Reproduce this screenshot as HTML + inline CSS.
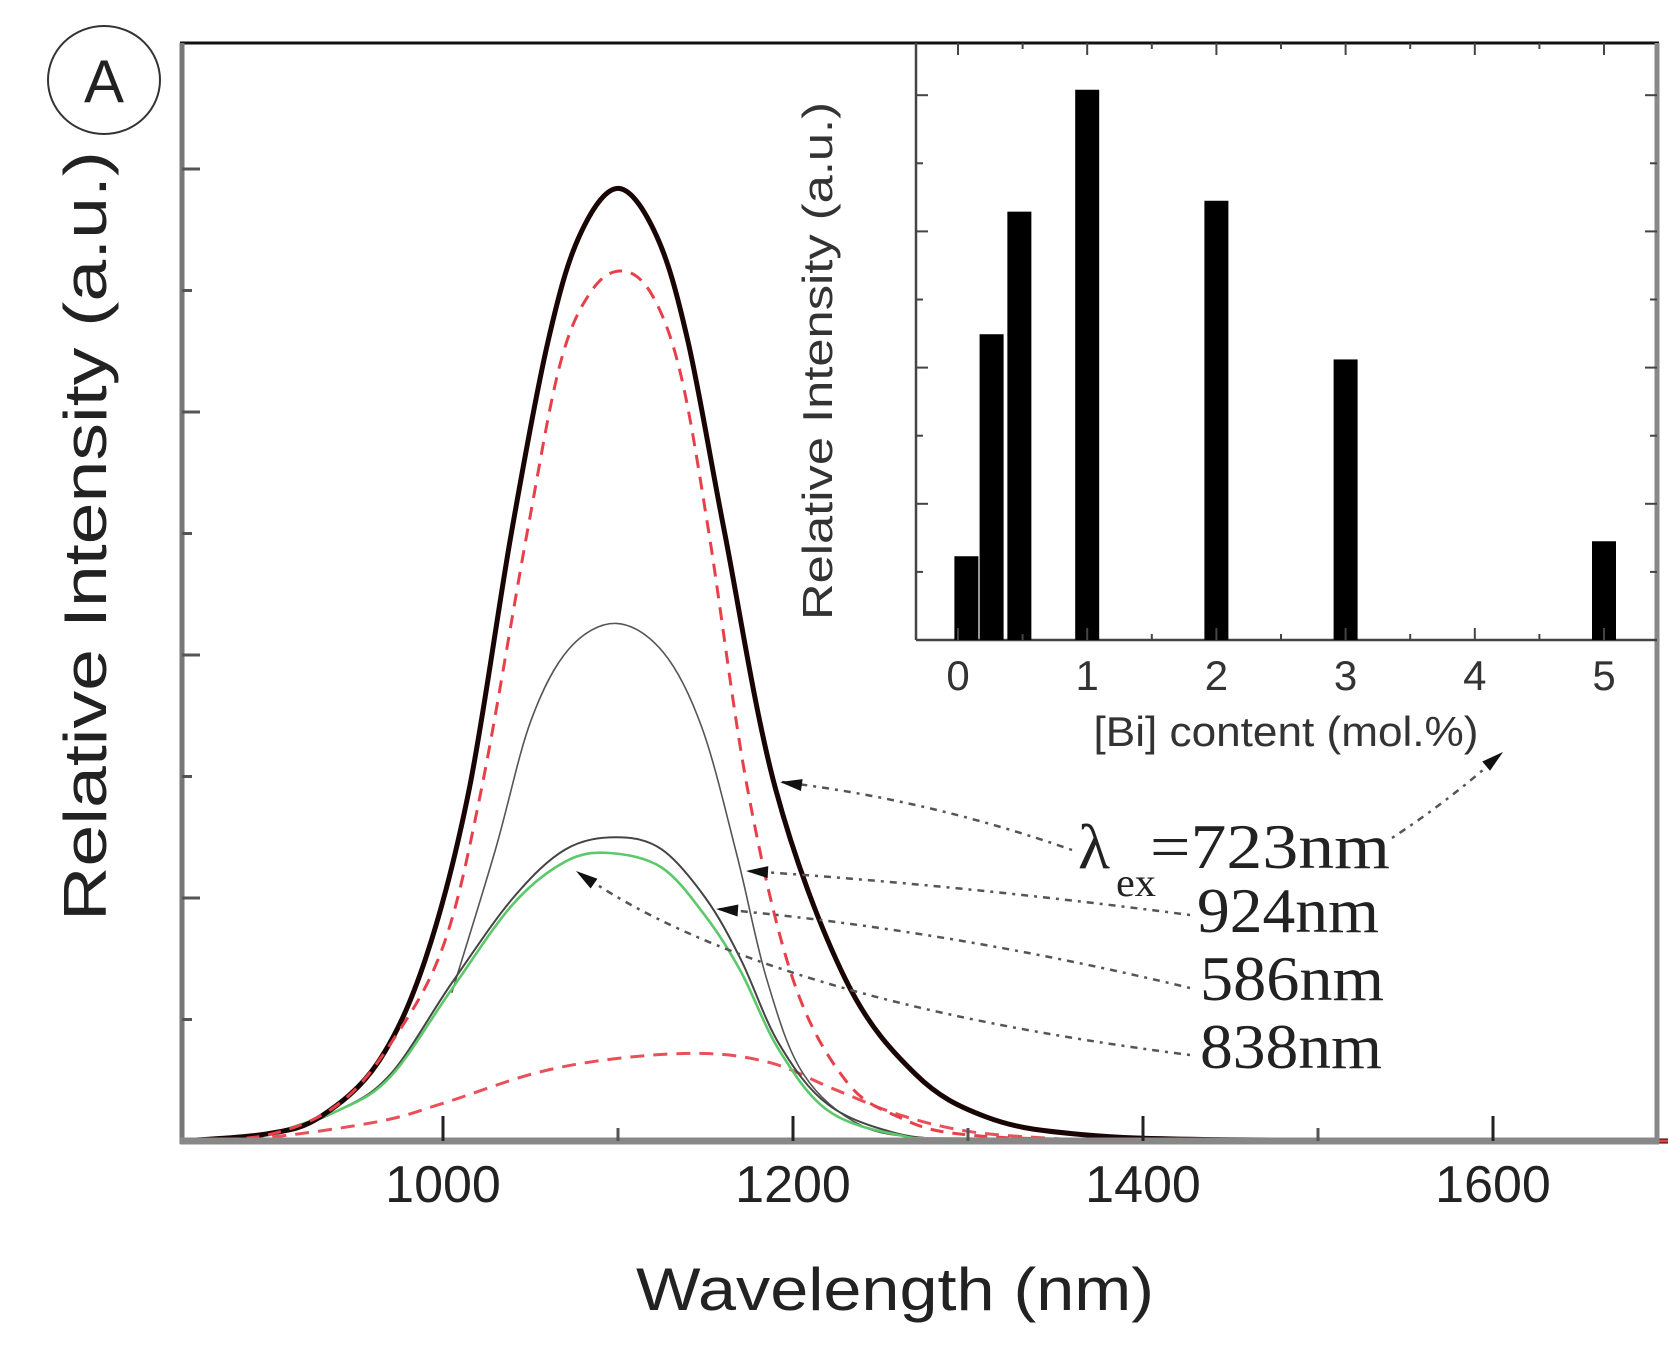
<!DOCTYPE html>
<html>
<head>
<meta charset="utf-8">
<style>
  html,body{margin:0;padding:0;background:#fff;}
  svg{display:block;}
  .sans{font-family:"Liberation Sans",Arial,sans-serif;}
  .serif{font-family:"Liberation Serif","Times New Roman",serif;}
</style>
</head>
<body>
<svg id="chart" width="1676" height="1346" viewBox="0 0 1676 1346" xmlns="http://www.w3.org/2000/svg">
  <rect x="0" y="0" width="1676" height="1346" fill="#fff"/>
  <g id="main"></g>
  <g id="inset"></g>
  <g id="annot"></g>
</svg>
<script>
// ---------------- main spectra data ----------------
const xTickLabels = [1000, 1200, 1400, 1600];
const xMinorTicks = [1100, 1300, 1500];
const yTickValues = [1, 2, 3, 4, 5, 6, 7, 8];

const wlThick = [850, 900, 930, 963, 990, 1015, 1039, 1060, 1078, 1100, 1122, 1140, 1161, 1190, 1230, 1270, 1310, 1360, 1450, 1700];
const valThick = [0, 0.06, 0.2, 0.65, 1.5, 2.9, 5.0, 6.58, 7.45, 7.84, 7.45, 6.58, 5.0, 2.9, 1.33, 0.55, 0.2, 0.06, 0.01, 0];

const wlRedBig = [850, 900, 940, 970, 1000, 1022, 1048, 1067, 1085, 1103, 1120, 1136, 1152, 1174, 1200, 1230, 1260, 1300, 1400, 1700];
const valRedBig = [0, 0.05, 0.3, 0.8, 1.6, 2.9, 5.0, 6.4, 7.0, 7.16, 6.95, 6.3, 5.0, 2.9, 1.33, 0.5, 0.2, 0.05, 0.01, 0];

const wlThin = [1005, 1030, 1050, 1072, 1099, 1126, 1148, 1168, 1185, 1206, 1240, 1280, 1300];
const valThin = [1.22, 2.4, 3.45, 4.05, 4.26, 4.02, 3.4, 2.35, 1.33, 0.55, 0.12, 0.02, 0];

const wlMid = [850, 900, 940, 970, 1005, 1040, 1070, 1099, 1125, 1150, 1170, 1192, 1220, 1260, 1300];
const valMid = [0, 0.05, 0.25, 0.55, 1.3, 2.0, 2.4, 2.5, 2.4, 2.0, 1.5, 0.8, 0.3, 0.06, 0];

const wlGreen = [900, 940, 970, 1005, 1040, 1070, 1095, 1125, 1150, 1170, 1192, 1220, 1260, 1300, 1500];
const valGreen = [0.05, 0.25, 0.53, 1.25, 1.95, 2.3, 2.37, 2.25, 1.85, 1.4, 0.75, 0.25, 0.05, 0.02, 0];

const wlRedLow = [850, 900, 963, 1000, 1053, 1100, 1150, 1188, 1223, 1260, 1300, 1350, 1400, 1700];
const valRedLow = [0, 0.03, 0.16, 0.31, 0.56, 0.68, 0.72, 0.64, 0.43, 0.22, 0.08, 0.02, 0, 0];

// ---------------- inset data ----------------
const biContent = [0.065, 0.26, 0.475, 1, 2, 3, 5];
const biIntensity = [1.23, 4.49, 6.29, 8.08, 6.45, 4.12, 1.45];
const insetXTicks = [0, 1, 2, 3, 4, 5];
const insetYTicks = [1, 2, 3, 4, 5, 6, 7, 8];

const NS = "http://www.w3.org/2000/svg";
function mk(tag, attrs, parent) {
  const e = document.createElementNS(NS, tag);
  for (const k in attrs) e.setAttribute(k, attrs[k]);
  parent.appendChild(e);
  return e;
}

const L = 182, R = 1657, T = 43, B = 1141;
const xPx = w => 443 + (w - 1000) * 1.75;
const yPx = v => B - v * 121.5;

function smoothPath(xs, ys) {
  const p = xs.map((x, i) => [x, ys[i]]);
  let d = "M" + p[0][0].toFixed(1) + "," + p[0][1].toFixed(1);
  for (let i = 0; i < p.length - 1; i++) {
    const p0 = p[i - 1] || p[i], p1 = p[i], p2 = p[i + 1], p3 = p[i + 2] || p2;
    const c1x = p1[0] + (p2[0] - p0[0]) / 6, c1y = p1[1] + (p2[1] - p0[1]) / 6;
    const c2x = p2[0] - (p3[0] - p1[0]) / 6, c2y = p2[1] - (p3[1] - p1[1]) / 6;
    d += " C" + c1x.toFixed(1) + "," + c1y.toFixed(1) + " " + c2x.toFixed(1) + "," + c2y.toFixed(1) + " " + p2[0].toFixed(1) + "," + p2[1].toFixed(1);
  }
  return d;
}

const main = document.getElementById("main");

function curve(wl, vals, stroke, width, dash, name) {
  const xs = wl.map(xPx), ys = vals.map(yPx);
  const a = { d: smoothPath(xs, ys), fill: "none", stroke: stroke, "stroke-width": width, "stroke-linejoin": "round" };
  if (dash) a["stroke-dasharray"] = dash;
  const el = mk("path", a, main);
  
  
}
curve(wlRedLow, valRedLow, "#e8505a", 3, "14,9", "spectrum-838nm");
curve(wlThin, valThin, "#555", 1.6, null, "spectrum-924nm");
curve(wlMid, valMid, "#444", 2, null, "spectrum-586nm");
curve(wlGreen, valGreen, "#5cc86a", 2.6, null, "spectrum-green");
curve(wlThick, valThick, "#1a0505", 5, null, "spectrum-723nm");
curve(wlRedBig, valRedBig, "#e8404a", 3, "13,9", "spectrum-red-dashed");

mk("line", { x1: L - 2, y1: T, x2: R + 2, y2: T, stroke: "#111", "stroke-width": 3 }, main);
mk("line", { x1: L, y1: T, x2: L, y2: B + 3, stroke: "#777", "stroke-width": 5 }, main);
mk("line", { x1: R, y1: T, x2: R, y2: B + 3, stroke: "#888", "stroke-width": 5 }, main);
mk("line", { x1: L - 2, y1: B, x2: R + 2, y2: B, stroke: "#888", "stroke-width": 7 }, main);

xTickLabels.forEach(t => {
  const x = xPx(t);
  const tk = mk("line", { x1: x, y1: B, x2: x, y2: B - 25, stroke: "#222", "stroke-width": 3 }, main);
  
  
  const lb = mk("text", { x: x, y: 1202, "text-anchor": "middle", "font-size": 52, fill: "#222", class: "sans" }, main);
  lb.textContent = t;
  
  
});
xMinorTicks.forEach(t => {
  const x = xPx(t);
  const tk = mk("line", { x1: x, y1: B, x2: x, y2: B - 13, stroke: "#555", "stroke-width": 3 }, main);
  
  
});
yTickValues.forEach(v => {
  const y = yPx(v);
  const major = v % 2 === 0;
  const tk = mk("line", { x1: L, y1: y, x2: L + (major ? 18 : 10), y2: y, stroke: "#555", "stroke-width": 3 }, main);
  
  
});

const xt = mk("text", { x: 895, y: 1310, "text-anchor": "middle", "font-size": 60, fill: "#222", class: "sans", textLength: 518, lengthAdjust: "spacingAndGlyphs" }, main);
xt.textContent = "Wavelength (nm)";


const yt = mk("text", { x: 0, y: 0, "text-anchor": "middle", "font-size": 60, fill: "#222", class: "sans", textLength: 770, lengthAdjust: "spacingAndGlyphs", transform: "translate(106,536) rotate(-90)" }, main);
yt.textContent = "Relative Intensity (a.u.)";



mk("ellipse", { cx: 104, cy: 80, rx: 56, ry: 54, fill: "none", stroke: "#333", "stroke-width": 2 }, main);
const pa = mk("text", { x: 104, y: 102, "text-anchor": "middle", "font-size": 60, fill: "#222", class: "sans" }, main);
pa.textContent = "A";



// ---------------- inset ----------------
const inset = document.getElementById("inset");
const IL = 916, IB = 640;
const ixPx = c => 958 + c * 129.2;
const iyPx = v => IB - v * 68.1;

mk("line", { x1: IL, y1: T, x2: IL, y2: IB, stroke: "#444", "stroke-width": 2.5 }, inset);
mk("line", { x1: IL, y1: IB, x2: R, y2: IB, stroke: "#444", "stroke-width": 2.5 }, inset);

biContent.forEach((c, i) => {
  const x = ixPx(c), y = iyPx(biIntensity[i]);
  const b = mk("rect", { x: x - 12, y: y, width: 24, height: IB - y, fill: "#000" }, inset);
  
  
});
insetXTicks.forEach(t => {
  const x = ixPx(t);
  const tk = mk("line", { x1: x, y1: IB, x2: x, y2: IB - 12, stroke: "#444", "stroke-width": 2 }, inset);
  
  
  const tk2 = mk("line", { x1: x, y1: T, x2: x, y2: T + 12, stroke: "#444", "stroke-width": 2 }, inset);
  
  
  const mx = ixPx(t + 0.5);
  if (mx < R) {
    const m1 = mk("line", { x1: mx, y1: IB, x2: mx, y2: IB - 6, stroke: "#444", "stroke-width": 2 }, inset);
    
    const m2 = mk("line", { x1: mx, y1: T, x2: mx, y2: T + 6, stroke: "#444", "stroke-width": 2 }, inset);
    
  }
  const lb = mk("text", { x: x, y: 690, "text-anchor": "middle", "font-size": 42, fill: "#333", class: "sans" }, inset);
  lb.textContent = t;
  
  
});
insetYTicks.forEach(v => {
  const y = iyPx(v);
  const len = v % 2 === 0 ? 12 : 7;
  const tk = mk("line", { x1: IL, y1: y, x2: IL + len, y2: y, stroke: "#444", "stroke-width": 2 }, inset);
  
  
  const tk2 = mk("line", { x1: R, y1: y, x2: R - len, y2: y, stroke: "#444", "stroke-width": 2 }, inset);
  
  
});
const ixt = mk("text", { x: 1286, y: 746, "text-anchor": "middle", "font-size": 42, fill: "#333", class: "sans", textLength: 385, lengthAdjust: "spacingAndGlyphs" }, inset);
ixt.textContent = "[Bi] content (mol.%)";


const iyt = mk("text", { x: 0, y: 0, "text-anchor": "middle", "font-size": 42, fill: "#333", class: "sans", textLength: 518, lengthAdjust: "spacingAndGlyphs", transform: "translate(832,361) rotate(-90)" }, inset);
iyt.textContent = "Relative Intensity (a.u.)";



// ---------------- annotations ----------------
const annot = document.getElementById("annot");
function arrow(d, tip, ang, name) {
  const p = mk("path", { d: d, fill: "none", stroke: "#555", "stroke-width": 2.5, "stroke-dasharray": "3,6,7,6" }, annot);
  
  
  const h = mk("polygon", { points: "0,0 22,-6 22,6", fill: "#111", transform: "translate(" + tip[0] + "," + tip[1] + ") rotate(" + ang + ")" }, annot);
  
  
}
arrow("M1072,850 Q930,800 782,782", [780, 782], 8, "arrow-723nm");
arrow("M1392,838 Q1450,800 1500,755", [1503, 752], 140, "arrow-723nm-inset");
arrow("M1190,915 Q960,885 748,871", [746, 871], 3, "arrow-924nm");
arrow("M1190,988 Q950,930 718,909", [716, 909], 4, "arrow-586nm");
arrow("M1190,1055 Q760,1000 578,872", [576, 871], 35, "arrow-838nm");

function label(x, y, txt, len, name, size) {
  const t = mk("text", { x: x, y: y, "font-size": size || 64, fill: "#222", class: "serif", textLength: len, lengthAdjust: "spacingAndGlyphs" }, annot);
  t.textContent = txt;
  
  
}
label(1078, 868, "λ", 32, "lambda-symbol", 64);
label(1116, 896, "ex", 40, "lambda-subscript", 40);
label(1150, 868, "=723nm", 240, "label-723nm");
label(1197, 932, "924nm", 182, "label-924nm");
label(1200, 1000, "586nm", 184, "label-586nm");
label(1200, 1068, "838nm", 182, "label-838nm");
</script>
</body>
</html>
